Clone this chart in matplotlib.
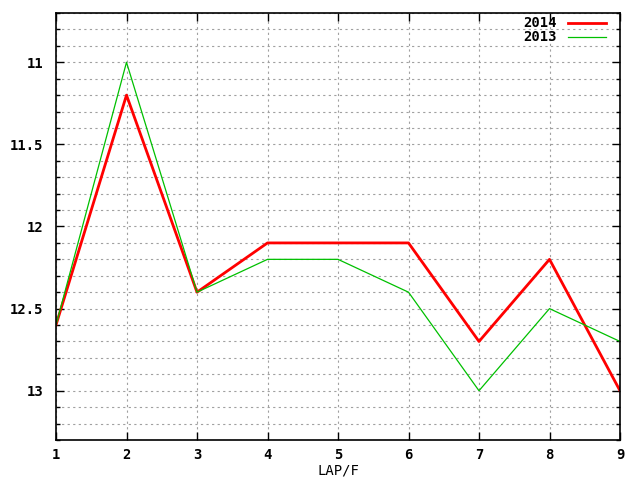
import matplotlib
matplotlib.use("Agg")
import matplotlib.pyplot as plt
from matplotlib.ticker import MultipleLocator

laps = [1, 2, 3, 4, 5, 6, 7, 8, 9]
y2014 = [12.6, 11.2, 12.4, 12.1, 12.1, 12.1, 12.7, 12.2, 13.0]
y2013 = [12.6, 11.0, 12.4, 12.2, 12.2, 12.4, 13.0, 12.5, 12.7]

plt.rcParams['font.family'] = ['DejaVu Sans Mono']
plt.rcParams['font.weight'] = 'bold'

fig = plt.figure(figsize=(6.4, 4.8), dpi=100)
ax = fig.add_axes([56/640, 1-440/480, (620-56)/640, (440-13)/480])

ax.plot(laps, y2014, color='#ff0000', lw=2.0, label='2014')
ax.plot(laps, y2013, color='#00c000', lw=0.9, label='2013')

ax.set_xlim(1, 9)
ax.set_ylim(13.3, 10.7)
ax.xaxis.set_major_locator(MultipleLocator(1))
ax.yaxis.set_minor_locator(MultipleLocator(0.1))
ax.set_yticks([11, 11.5, 12, 12.5, 13])
ax.set_yticklabels(['11', '11.5', '12', '12.5', '13'])

ax.grid(True, which='major', axis='x', color='#a0a0a0', ls=(0, (2, 3)), lw=0.8)
ax.grid(True, which='both', axis='y', color='#a0a0a0', ls=(0, (2, 3)), lw=0.8)
ax.set_axisbelow(True)

ax.tick_params(which='both', direction='in', top=True, right=True, labelsize=10, width=1, color='black')
ax.tick_params(which='major', length=6)
ax.tick_params(axis='x', pad=6)
ax.tick_params(axis='y', pad=9)
ax.tick_params(which='minor', length=3)
for s in ax.spines.values():
    s.set_linewidth(1.2)

ax.set_xlabel('LAP/F', fontsize=10, labelpad=1)

leg = ax.legend(loc='upper right', bbox_to_anchor=(1 - 11/564, 1.0), frameon=False,
                markerfirst=False, fontsize=10, handlelength=2.7, borderaxespad=0.2,
                borderpad=0.05, labelspacing=0.0, handletextpad=0.8)

fig.savefig('out.png', dpi=100)
